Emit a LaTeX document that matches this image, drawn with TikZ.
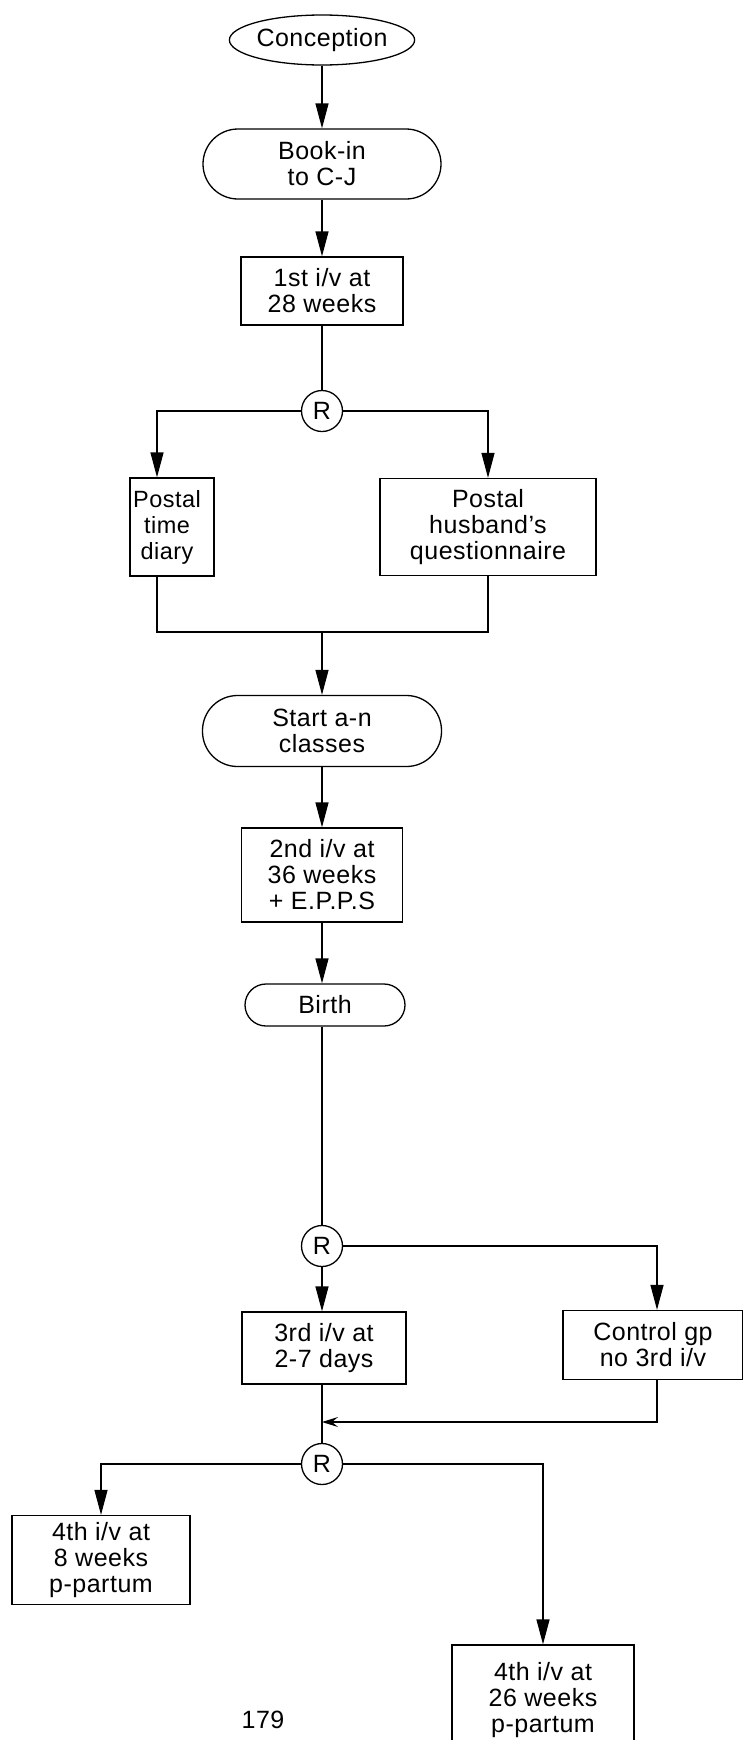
\documentclass[tikz,border=0pt]{standalone}
\usepackage{fontspec}
\setmainfont{Liberation Sans}[LetterSpace=2]
\usetikzlibrary{shapes.geometric,arrows.meta}
\begin{document}
\begin{tikzpicture}[x=1pt,y=-1pt,
  every node/.style={font=\fontsize{25}{26}\selectfont, align=center, inner sep=0pt, line width=1.3pt},
  boxnode/.style={draw, rectangle},
  stadium/.style={draw, rectangle, rounded corners=#1},
  ovalnode/.style={draw, ellipse},
  rnode/.style={draw, circle, minimum size=41pt},
  arr/.style={line width=1.3pt, -{Triangle[length=25pt,width=13pt]}},
  barb/.style={line width=1.3pt, -{Stealth[length=16pt,width=10pt,inset=6pt]}},
  ln/.style={line width=1.3pt}]
\useasboundingbox (0,0) rectangle (743,1740);

\node[ovalnode, minimum width=176pt, minimum height=50pt] (conc) at (322,40) {Conception};
\node[stadium=35pt, minimum width=238pt, minimum height=70pt] (book) at (322,164) {Book-in\\to C-J};
\node[boxnode, minimum width=162pt, minimum height=68pt] (iv1) at (322,291) {1st i/v at\\28 weeks};
\node[rnode] (r1) at (322,411) {R};
\node[boxnode, minimum width=84pt, minimum height=98pt] (diary) at (172,527) {};
\node[font=\fontsize{23.5}{26}\selectfont] (diarytext) at ([xshift=-5pt]diary.center) {Postal\\time\\diary};
\node[boxnode, minimum width=216pt, minimum height=97pt] (quest) at (488,527) {Postal\\husband's\\questionnaire};
\coordinate (j) at (322,632);
\node[stadium=35pt, minimum width=239pt, minimum height=71pt] (start) at (322,731) {Start a-n\\classes};
\node[boxnode, minimum width=161pt, minimum height=94pt] (iv2) at (322,875) {2nd i/v at\\36 weeks\\+ E.P.P.S};
\node[stadium=21pt, minimum width=160pt, minimum height=42pt] (birth) at (325,1005) {Birth};
\node[rnode] (r2) at (322,1246) {R};
\node[boxnode, minimum width=164pt, minimum height=72pt] (iv3) at (324,1348) {3rd i/v at\\2-7 days};
\node[boxnode, minimum width=180pt, minimum height=69pt] (ctrl) at (653,1345) {Control gp\\no 3rd i/v};
\coordinate (m) at (322,1422);
\node[rnode] (r3) at (322,1464) {R};
\node[boxnode, minimum width=178pt, minimum height=89pt] (iv4a) at (101,1560) {4th i/v at\\8 weeks\\p-partum};
\node[boxnode, minimum width=182pt, minimum height=110pt] (iv4b) at (543,1700) {4th i/v at\\26 weeks\\p-partum};
\node (pg) at (263,1720) {179};

\draw[arr] (conc) -- (book);
\draw[arr] (book) -- (iv1);
\draw[ln] (iv1) -- (r1);
\draw[arr] (r1.west) -| ([xshift=-15pt]diary.north);
\draw[arr] (r1.east) -| (quest.north);
\draw[ln] ([xshift=-15pt]diary.south) |- (j) -| (quest.south);
\draw[arr] (j) -- (start.north);
\draw[arr] (start) -- (iv2);
\draw[arr] (iv2.south) -- (iv2.south |- birth.north);
\draw[ln] (birth.south -| r2) -- (r2);
\draw[arr] (r2) -- (iv3.north -| r2);
\draw[arr] (r2.east) -| ([xshift=4pt]ctrl.north);
\draw[ln] (iv3.south -| r3) -- (r3);
\draw[barb] ([xshift=4pt]ctrl.south) |- (m);
\draw[arr] (r3.west) -| (iv4a.north);
\draw[arr] (r3.east) -| (iv4b.north);
\end{tikzpicture}
\end{document}
